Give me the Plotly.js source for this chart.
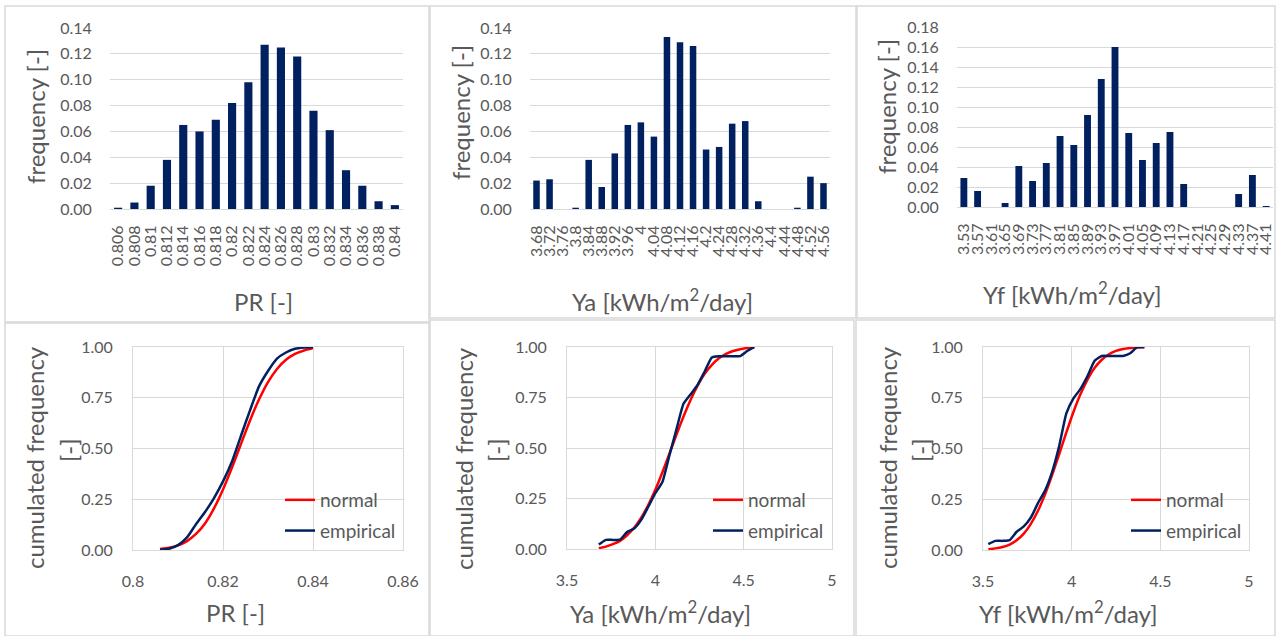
<!DOCTYPE html>
<html>
<head>
<meta charset="utf-8">
<script src="https://cdn.plot.ly/plotly-3.0.1.min.js"></script>
<style>html,body{margin:0;padding:0;background:#fff;}#chart{width:1277px;height:636px;}</style>
</head>
<body>
<div id="chart"></div>
<script>
// ---------- DATA ----------
const prBins = [0.806,0.808,0.81,0.812,0.814,0.816,0.818,0.82,0.822,0.824,0.826,0.828,0.83,0.832,0.834,0.836,0.838,0.84];
const prLabels = ['0.806','0.808','0.81','0.812','0.814','0.816','0.818','0.82','0.822','0.824','0.826','0.828','0.83','0.832','0.834','0.836','0.838','0.84'];
const prFreq = [0.001,0.005,0.018,0.038,0.065,0.060,0.069,0.082,0.098,0.127,0.125,0.118,0.076,0.061,0.030,0.018,0.006,0.003];
const prEmpirical = [0.001,0.006,0.024,0.062,0.127,0.187,0.256,0.338,0.436,0.563,0.688,0.806,0.882,0.943,0.973,0.991,0.997,1.000];
const prNormal = [0.005,0.011,0.023,0.044,0.079,0.131,0.205,0.298,0.406,0.523,0.638,0.741,0.827,0.892,0.937,0.966,0.983,0.995];

const yaBins = [3.68,3.72,3.76,3.8,3.84,3.88,3.92,3.96,4,4.04,4.08,4.12,4.16,4.2,4.24,4.28,4.32,4.36,4.4,4.44,4.48,4.52,4.56];
const yaLabels = ['3.68','3.72','3.76','3.8','3.84','3.88','3.92','3.96','4','4.04','4.08','4.12','4.16','4.2','4.24','4.28','4.32','4.36','4.4','4.44','4.48','4.52','4.56'];
const yaFreq = [0.022,0.023,0,0.001,0.038,0.017,0.043,0.065,0.067,0.056,0.133,0.129,0.126,0.046,0.048,0.066,0.068,0.006,0,0,0.001,0.025,0.020];
const yaEmpirical = [0.022,0.045,0.045,0.046,0.084,0.101,0.144,0.209,0.276,0.332,0.465,0.594,0.720,0.766,0.814,0.880,0.948,0.954,0.954,0.954,0.955,0.980,1.000];
const yaNormal = [0.004,0.012,0.024,0.040,0.068,0.105,0.155,0.218,0.293,0.380,0.473,0.567,0.657,0.739,0.810,0.868,0.912,0.944,0.966,0.980,0.989,0.995,0.998];

const yfBins = [3.53,3.57,3.61,3.65,3.69,3.73,3.77,3.81,3.85,3.89,3.93,3.97,4.01,4.05,4.09,4.13,4.17,4.21,4.25,4.29,4.33,4.37,4.41];
const yfLabels = ['3.53','3.57','3.61','3.65','3.69','3.73','3.77','3.81','3.85','3.89','3.93','3.97','4.01','4.05','4.09','4.13','4.17','4.21','4.25','4.29','4.33','4.37','4.41'];
const yfFreq = [0.029,0.016,0,0.004,0.041,0.026,0.044,0.071,0.062,0.092,0.128,0.160,0.074,0.047,0.064,0.075,0.023,0,0,0,0.013,0.032,0.001];
const yfEmpirical = [0.029,0.045,0.045,0.049,0.090,0.116,0.160,0.231,0.293,0.385,0.513,0.673,0.747,0.794,0.858,0.933,0.956,0.956,0.956,0.956,0.969,0.999,1.000];
const yfNormal = [0.004,0.008,0.015,0.027,0.048,0.081,0.129,0.193,0.274,0.370,0.473,0.579,0.680,0.768,0.841,0.898,0.937,0.964,0.981,0.990,0.995,0.998,0.999];

// ---------- STYLE ----------
const W = 1277, H = 636;
const px = v => v / W;
const py = v => 1 - v / H;
const NAVY = '#002060', RED = '#ff0000', GRID = '#d9d9d9', TXT = '#595959';
const FONT = 'Lato, "Open Sans", sans-serif';

function histAxisX(domain, labels, anchor) {
  return {
    domain: domain, anchor: anchor, type: 'category', tickmode: 'array', tickvals: labels, ticktext: labels,
    tickangle: -90, tickfont: {size: 16, color: TXT, family: FONT},
    ticks: 'outside', ticklen: 9, tickcolor: 'rgba(0,0,0,0)',
    showgrid: false, showline: true, linecolor: GRID, linewidth: 1, zeroline: false, fixedrange: true
  };
}
function histAxisY(domain, max, anchor) {
  return {
    domain: domain, anchor: anchor, range: [0, max], dtick: 0.02, tickformat: '.2f',
    tickfont: {size: 16, color: TXT, family: FONT},
    ticks: 'outside', ticklen: 14, tickcolor: 'rgba(0,0,0,0)',
    showgrid: true, gridcolor: GRID, gridwidth: 1, zeroline: false, showline: false, fixedrange: true
  };
}
function cdfAxisX(domain, range, dtick, anchor) {
  return {
    domain: domain, anchor: anchor, range: range, dtick: dtick,
    tickfont: {size: 16, color: TXT, family: FONT},
    ticks: 'outside', ticklen: 17, tickcolor: 'rgba(0,0,0,0)',
    showgrid: true, gridcolor: GRID, gridwidth: 1, zeroline: false,
    showline: true, linecolor: GRID, mirror: true, fixedrange: true
  };
}
function cdfAxisY(domain, anchor) {
  return {
    domain: domain, anchor: anchor, range: [0, 1], dtick: 0.25, tickformat: '.2f',
    tickfont: {size: 16, color: TXT, family: FONT},
    ticks: 'outside', ticklen: 16, tickcolor: 'rgba(0,0,0,0)',
    showgrid: true, gridcolor: GRID, gridwidth: 1, zeroline: false,
    showline: true, linecolor: GRID, mirror: true, fixedrange: true
  };
}

const bar = (x, y, xa, ya) => ({type: 'bar', x: x, y: y, xaxis: xa, yaxis: ya, marker: {color: NAVY}, showlegend: false, hoverinfo: 'x+y'});
const line = (x, y, xa, ya, name, color, legend) => ({
  type: 'scatter', mode: 'lines', x: x, y: y, xaxis: xa, yaxis: ya, name: name,
  line: {color: color, width: 2.5, shape: 'spline', smoothing: 0.5}, legend: legend, legendgroup: name + legend
});

const data = [
  bar(prLabels, prFreq, 'x', 'y'),
  bar(yaLabels, yaFreq, 'x2', 'y2'),
  bar(yfLabels, yfFreq, 'x3', 'y3'),
  line(prBins, prNormal, 'x4', 'y4', 'normal', RED, 'legend'),
  line(prBins, prEmpirical, 'x4', 'y4', 'empirical', NAVY, 'legend'),
  line(yaBins, yaNormal, 'x5', 'y5', 'normal', RED, 'legend2'),
  line(yaBins, yaEmpirical, 'x5', 'y5', 'empirical', NAVY, 'legend2'),
  line(yfBins, yfNormal, 'x6', 'y6', 'normal', RED, 'legend3'),
  line(yfBins, yfEmpirical, 'x6', 'y6', 'empirical', NAVY, 'legend3')
];

function legendAt(x, y) {
  return {x: px(x), y: py(y), xanchor: 'left', yanchor: 'top', bgcolor: 'rgba(0,0,0,0)',
    font: {size: 19, color: TXT, family: FONT}, traceorder: 'grouped', tracegroupgap: 3};
}

function title(text, x, y, rot) {
  return {text: text, x: px(x), y: py(y), xref: 'paper', yref: 'paper', showarrow: false,
    textangle: rot || 0, xanchor: 'center', yanchor: 'middle', font: {size: 24, color: TXT, family: FONT}};
}
function panel(x0, y0, x1, y1) {
  return {type: 'rect', xref: 'paper', yref: 'paper', x0: px(x0), x1: px(x1), y0: py(y1), y1: py(y0),
    line: {color: GRID, width: 1.5}, fillcolor: 'rgba(0,0,0,0)', layer: 'below'};
}

const layout = {
  width: W, height: H, margin: {l: 0, r: 0, t: 0, b: 0},
  paper_bgcolor: '#fff', plot_bgcolor: '#fff', bargap: 0.5,
  font: {family: FONT, color: TXT},
  xaxis: histAxisX([px(110), px(403)], prLabels, 'y'),
  yaxis: histAxisY([py(209), py(28)], 0.14, 'x'),
  xaxis2: histAxisX([px(530), px(830)], yaLabels, 'y2'),
  yaxis2: histAxisY([py(209), py(28)], 0.14, 'x2'),
  xaxis3: histAxisX([px(957), px(1273)], yfLabels, 'y3'),
  yaxis3: histAxisY([py(207), py(27)], 0.18, 'x3'),
  xaxis4: cdfAxisX([px(133), px(403)], [0.8, 0.86], 0.02, 'y4'),
  yaxis4: cdfAxisY([py(550), py(347)], 'x4'),
  xaxis5: cdfAxisX([px(567), px(832)], [3.5, 5], 0.5, 'y5'),
  yaxis5: cdfAxisY([py(549), py(347)], 'x5'),
  xaxis6: cdfAxisX([px(983), px(1249)], [3.5, 5], 0.5, 'y6'),
  yaxis6: cdfAxisY([py(550), py(347)], 'x6'),
  legend: legendAt(280, 481),
  legend2: legendAt(708, 481),
  legend3: legendAt(1126, 481),
  shapes: [
    panel(5, 6, 429, 322), panel(430, 6, 856, 318), panel(857, 6, 1275, 318),
    panel(5, 323, 429, 636), panel(430, 320, 854, 636), panel(856, 320, 1275, 636)
  ],
  annotations: [
    title('frequency [-]', 35, 117, -90),
    title('PR [-]', 263, 301),
    title('frequency [-]', 461, 112, -90),
    title('Ya [kWh/m<sup>2</sup>/day]', 662, 300),
    title('frequency [-]', 886, 107, -90),
    title('Yf [kWh/m<sup>2</sup>/day]', 1072, 293),
    title('cumulated frequency', 35, 458, -90),
    title('[-]', 69, 450, -90),
    title('PR [-]', 235, 612),
    title('cumulated frequency', 464, 458, -90),
    title('[-]', 497, 450, -90),
    title('Ya [kWh/m<sup>2</sup>/day]', 660, 612),
    title('cumulated frequency', 888, 458, -90),
    title('[-]', 921, 450, -90),
    title('Yf [kWh/m<sup>2</sup>/day]', 1068, 612)
  ]
};

Plotly.newPlot('chart', data, layout, {displayModeBar: false, staticPlot: true});
</script>
</body>
</html>
